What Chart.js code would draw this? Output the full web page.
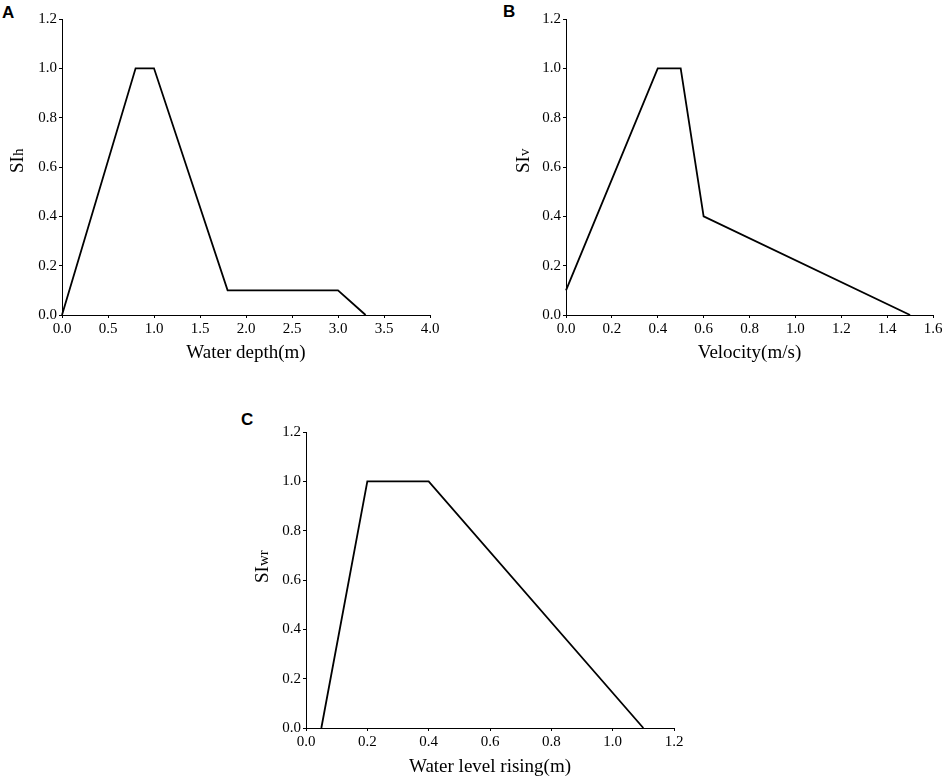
<!DOCTYPE html>
<html>
<head>
<meta charset="utf-8">
<script src="https://cdn.jsdelivr.net/npm/chart.js@4/dist/chart.umd.min.js"></script>
<style>
  html, body { margin: 0; padding: 0; background: #fff; }
  body { width: 948px; height: 780px; position: relative; overflow: hidden; }
  .panel { position: absolute; }
  .tag { position: absolute; font-family: "Liberation Sans", Arial, sans-serif; font-weight: bold; font-size: 17px; line-height: 1; color: #000; }
</style>
</head>
<body>
<div class="tag" style="left:2px; top:4px;">A</div>
<div class="tag" style="left:503px; top:3px;">B</div>
<div class="tag" style="left:241px; top:411px;">C</div>
<div class="panel" style="left:0px; top:0px; width:450px; height:370px;"><canvas id="cA"></canvas></div>
<div class="panel" style="left:480px; top:0px; width:468px; height:370px;"><canvas id="cB"></canvas></div>
<div class="panel" style="left:230px; top:400px; width:500px; height:380px;"><canvas id="cC"></canvas></div>
<script>
// Panel A: water depth suitability
const depthX = [0, 0.8, 1.0, 1.8, 3.0, 3.3];
const siH    = [0, 1.0, 1.0, 0.1, 0.1, 0.0];
// Panel B: velocity suitability
const velX = [0, 0.4, 0.5, 0.6, 1.5];
const siV  = [0.1, 1.0, 1.0, 0.4, 0.0];
// Panel C: water level rising suitability
const riseX = [0.05, 0.2, 0.4, 1.1];
const siWr  = [0.0, 1.0, 1.0, 0.0];

const xTitles = ['Water depth(m)', 'Velocity(m/s)', 'Water level rising(m)'];
const yTitleMain = 'SI';
const yTitleSubs = ['h', 'v', 'wr'];

const serif = "'Liberation Serif', 'Times New Roman', serif";
Chart.defaults.font.family = serif;
Chart.defaults.font.size = 15;
Chart.defaults.color = '#000';

function makeChart(id, xs, ys, cfg) {
  const pts = xs.map((x, i) => ({ x: x, y: ys[i] }));
  function axis(extra) {
    return Object.assign({
      grid: { drawOnChartArea: false, drawTicks: true, tickLength: 3, color: '#000', lineWidth: 1 },
      border: { display: true, color: '#000', width: 1 }
    }, extra);
  }
  const yTitlePlugin = {
    id: 'yTitleSub',
    afterDraw(chart) {
      const ctx = chart.ctx;
      const area = chart.chartArea;
      const by = (area.top + area.bottom) / 2 + cfg.yTitleOff;
      ctx.save();
      ctx.translate(cfg.yTitleX, by);
      ctx.rotate(-Math.PI / 2);
      ctx.fillStyle = '#000';
      ctx.textAlign = 'left';
      ctx.textBaseline = 'alphabetic';
      ctx.font = '19px ' + serif;
      ctx.fillText(yTitleMain, 0, 0);
      const w = ctx.measureText(yTitleMain).width;
      ctx.font = '15px ' + serif;
      ctx.fillText(cfg.ysub, w, 0);
      ctx.restore();
    }
  };
  return new Chart(document.getElementById(id), {
    type: 'scatter',
    data: { datasets: [{ data: pts, showLine: true, borderColor: '#000', borderWidth: 1.8,
      pointRadius: 0, pointHoverRadius: 0, tension: 0, fill: false, clip: false }] },
    plugins: [yTitlePlugin],
    options: {
      responsive: true, maintainAspectRatio: false, animation: false,
      layout: { padding: { top: cfg.top, right: cfg.right, left: 0, bottom: 0 } },
      plugins: { legend: { display: false }, tooltip: { enabled: false } },
      scales: {
        x: axis({
          type: 'linear', min: cfg.xmin, max: cfg.xmax,
          ticks: { stepSize: cfg.xstep, padding: 2, color: '#000', maxRotation: 0, autoSkip: false,
            font: { family: serif, size: 15 }, callback: v => Number(v).toFixed(1) },
          title: { display: true, text: cfg.xtitle, color: '#000', font: { family: serif, size: 19 },
            padding: { top: 0, bottom: cfg.xtb } },
          afterFit: s => { s.height = cfg.xh; }
        }),
        y: axis({
          type: 'linear', min: 0, max: 1.2,
          ticks: { stepSize: 0.2, padding: 2, color: '#000', autoSkip: false,
            font: { family: serif, size: 15 }, callback: v => Number(v).toFixed(1) },
          title: { display: false },
          afterFit: s => { s.width = cfg.yw; }
        })
      }
    }
  });
}

makeChart('cA', depthX, siH, { xmin: 0, xmax: 4.0, xstep: 0.5, xtitle: xTitles[0], ysub: yTitleSubs[0],
  top: 19, right: 20, xh: 55, xtb: 5.6, yw: 62, yTitleX: 23, yTitleOff: 6 });
makeChart('cB', velX, siV, { xmin: 0, xmax: 1.6, xstep: 0.2, xtitle: xTitles[1], ysub: yTitleSubs[1],
  top: 19, right: 15, xh: 55, xtb: 5.6, yw: 86, yTitleX: 49, yTitleOff: 6 });
makeChart('cC', riseX, siWr, { xmin: 0, xmax: 1.2, xstep: 0.2, xtitle: xTitles[2], ysub: yTitleSubs[2],
  top: 32, right: 56, xh: 52, xtb: 1.6, yw: 76, yTitleX: 38, yTitleOff: 3 });
</script>
</body>
</html>
